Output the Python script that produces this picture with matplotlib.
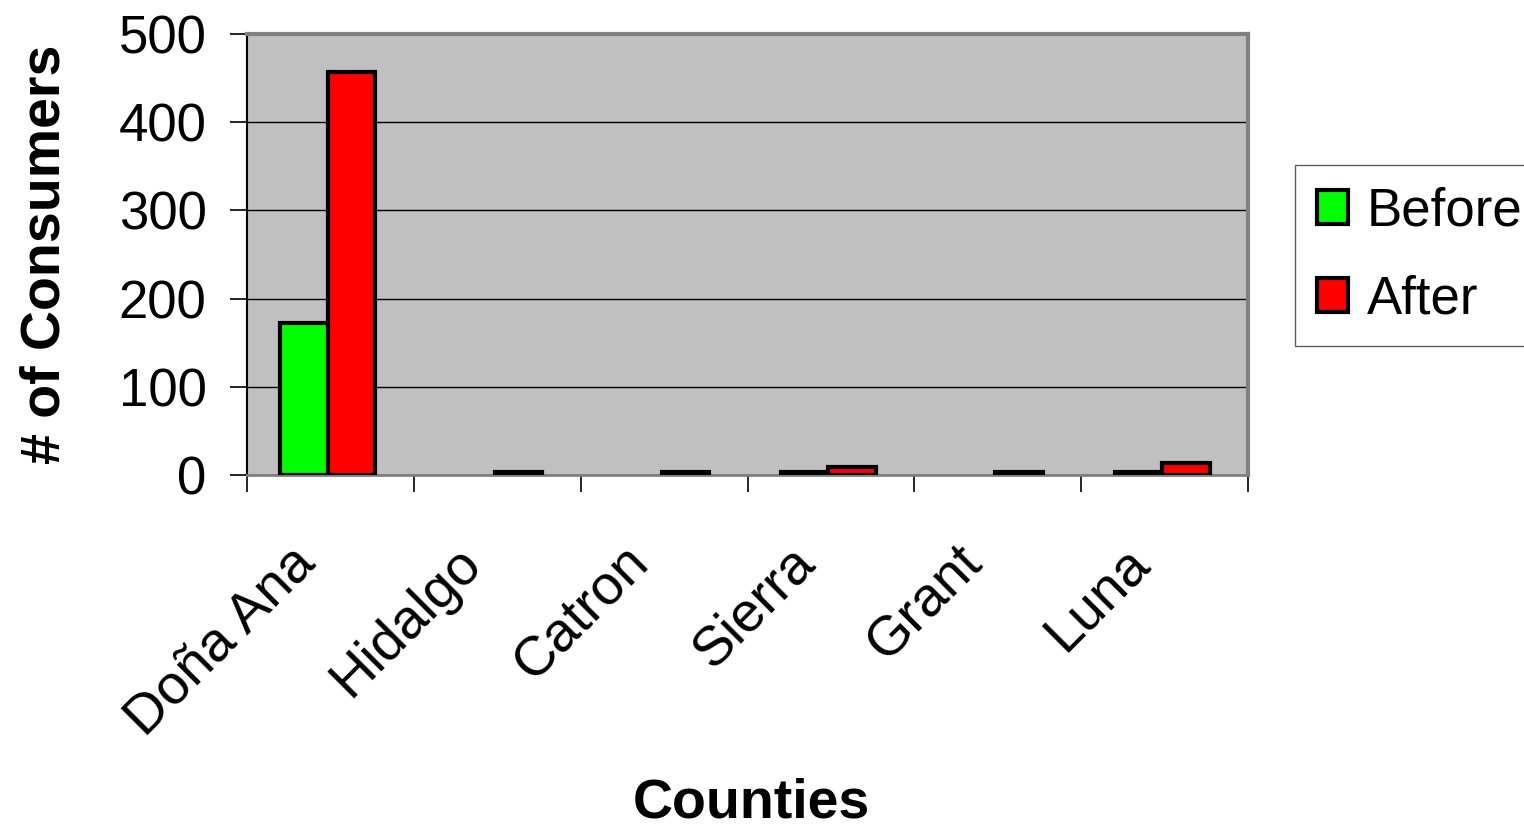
import matplotlib
matplotlib.use("Agg")
import matplotlib.pyplot as plt
import matplotlib.transforms as mtransforms
import numpy as np

plt.rcParams['font.family'] = ['Liberation Sans', 'DejaVu Sans']

counties = ["Doña Ana", "Hidalgo", "Catron", "Sierra", "Grant", "Luna"]
before = [172, 0, 0, 3, 0, 3]
after = [457, 3, 3, 9, 3, 14]
y_ticks = [0, 100, 200, 300, 400, 500]

fig = plt.figure(figsize=(15.24, 8.27), dpi=100)
ax = fig.add_axes([0.162, 0.4256, 0.657, 0.5333])
ax.set_facecolor('#C0C0C0')

x = np.arange(len(counties))
w = 0.285


def nonzero(values):
    # zero counts are left blank instead of drawing a flat outline
    return [v if v > 0 else np.nan for v in values]


ax.bar(x - w / 2 - 0.015, nonzero(before), w, color='#00FF00', edgecolor='black',
       linewidth=3, label='Before', zorder=3)
ax.bar(x + w / 2 - 0.015, nonzero(after), w, color='#FF0000', edgecolor='black',
       linewidth=3, label='After', zorder=3)

ax.set_xlim(-0.5, len(counties) - 0.5)
ax.set_ylim(0, 500)
ax.set_yticks(y_ticks)
ax.set_yticklabels([str(t) for t in y_ticks], fontsize=38)
ax.yaxis.grid(True, color='black', linewidth=1, zorder=0)
ax.set_axisbelow(True)
ax.tick_params(axis='y', direction='out', length=12, width=1.2, pad=17)

# category ticks sit between the groups; labels at group centres
ax.set_xticks(np.arange(-0.5, len(counties), 1.0))
ax.set_xticklabels([])
ax.tick_params(axis='x', direction='out', length=12, width=1.2)
ax.set_xticks(x, minor=True)
ax.set_xticklabels(counties, minor=True, rotation=45, ha='right',
                   rotation_mode='anchor', fontsize=40)
ax.tick_params(axis='x', which='minor', length=0, pad=40)
shift = mtransforms.ScaledTranslation(-0.42, -0.06, fig.dpi_scale_trans)
for lbl in ax.get_xticklabels(minor=True):
    lbl.set_transform(lbl.get_transform() + shift)

for side in ['top', 'right']:
    ax.spines[side].set_color('#808080')
    ax.spines[side].set_linewidth(3)
ax.spines['left'].set_color('black')
ax.spines['left'].set_linewidth(1.5)
ax.spines['bottom'].set_color('#808080')
ax.spines['bottom'].set_linewidth(2)

ax.set_ylabel('# of Consumers', fontsize=40, fontweight='bold')
ax.yaxis.set_label_coords(-0.175, 0.5)
fig.text(0.493, 0.028, 'Counties', fontsize=40, fontweight='bold',
         ha='center', va='center')

leg = fig.legend(loc='upper left', bbox_to_anchor=(0.85, 0.80), fontsize=38,
                 frameon=True, fancybox=False, edgecolor='#333333',
                 handlelength=0.6, handleheight=0.6, handletextpad=0.35,
                 labelspacing=0.72, borderpad=0.4, borderaxespad=0)
leg.get_frame().set_linewidth(1)
for patch in leg.get_patches():
    patch.set_linewidth(3)

fig.savefig('out.png', dpi=100)
